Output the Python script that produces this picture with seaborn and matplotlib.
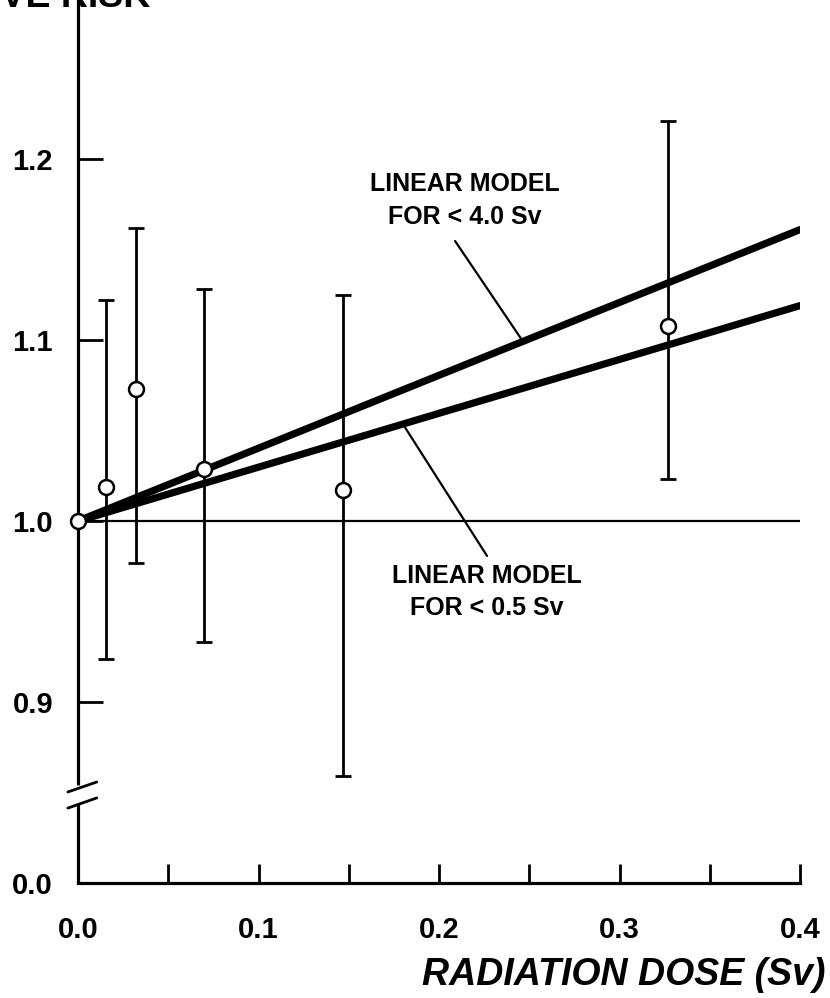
import numpy as np
import pandas as pd
import matplotlib
matplotlib.use("Agg")
import matplotlib.pyplot as plt
import seaborn as sns

# datos
dosis = [0.0, 0.0155, 0.032, 0.070, 0.147, 0.327]
riesgo = [1.0, 1.019, 1.073, 1.029, 1.017, 1.108]
ic_inf = [np.nan, 0.924, 0.977, 0.933, 0.859, 1.023]
ic_sup = [np.nan, 1.122, 1.162, 1.128, 1.125, 1.221]

modelo_x = [0.0, 0.4]
modelo_4sv = [1.0, 1.161]
modelo_05sv = [1.0, 1.119]

xtick_vals = [0.0, 0.05, 0.1, 0.15, 0.2, 0.25, 0.3, 0.35, 0.4]
xtick_labels = ["0.0", "", "0.1", "", "0.2", "", "0.3", "", "0.4"]
ytick_vals = [0.8, 0.9, 1.0, 1.1, 1.2]
ytick_labels = ["0.0", "0.9", "1.0", "1.1", "1.2"]

sns.set_theme(style="white", rc={
    "axes.edgecolor": "black", "xtick.color": "black", "ytick.color": "black",
    "text.color": "black", "axes.labelcolor": "black",
})
plt.rcParams["font.family"] = ["Liberation Sans", "DejaVu Sans"]
plt.rcParams["font.weight"] = "bold"

df = pd.DataFrame({"dosis": dosis, "riesgo": riesgo, "inf": ic_inf, "sup": ic_sup})
df_err = df.dropna()

fig = plt.figure(figsize=(8.3, 9.98), dpi=100)
ax = fig.add_axes([78 / 830, 1 - 883 / 998, 722 / 830, 883 / 998])
ax.set_xlim(0, 0.4)
ax.set_ylim(0.8, 0.8 + 883 / 1810)

# linea de referencia en 1.0
ax.axhline(1.0, color="black", lw=1.6, zorder=1)

# modelos lineales
sns.lineplot(x=modelo_x, y=modelo_4sv, ax=ax, color="black", lw=5.2, zorder=2)
sns.lineplot(x=modelo_x, y=modelo_05sv, ax=ax, color="black", lw=5.2, zorder=2)

# barras de error
ax.errorbar(df_err["dosis"], df_err["riesgo"],
            yerr=[df_err["riesgo"] - df_err["inf"], df_err["sup"] - df_err["riesgo"]],
            fmt="none", ecolor="black", elinewidth=2, capsize=6, capthick=2, zorder=3)

# puntos
sns.scatterplot(data=df, x="dosis", y="riesgo", ax=ax, s=115, color="white",
                edgecolor="black", linewidth=1.8, zorder=5, clip_on=False)

# etiquetas de los modelos
pend_4 = (modelo_4sv[1] - modelo_4sv[0]) / (modelo_x[1] - modelo_x[0])
pend_05 = (modelo_05sv[1] - modelo_05sv[0]) / (modelo_x[1] - modelo_x[0])
ax.text(0.2144, 1.177, "LINEAR MODEL\nFOR < 4.0 Sv", ha="center", va="center",
        fontsize=18, linespacing=1.45)
ax.plot([0.2089, 0.2465], [1.1547, 1.0 + pend_4 * 0.2465], color="black", lw=1.6)
ax.text(0.2266, 0.9608, "LINEAR MODEL\nFOR < 0.5 Sv", ha="center", va="center",
        fontsize=18, linespacing=1.45)
ax.plot([0.180, 0.2266], [1.0 + pend_05 * 0.180, 0.9807], color="black", lw=1.6)

# ejes
for s in ["top", "right", "left"]:
    ax.spines[s].set_visible(False)
ax.spines["bottom"].set_linewidth(2.3)
brk_lo, brk_hi = 0.844, 0.854
ytr = ax.get_yaxis_transform()
ax.plot([0, 0], [0.8, brk_lo], color="black", lw=2.3, transform=ytr, clip_on=False,
        solid_capstyle="butt")
ax.plot([0, 0], [brk_hi, 1.29], color="black", lw=2.3, transform=ytr, clip_on=False,
        solid_capstyle="butt")
ax.plot([-0.014, 0.026], [0.8414, 0.847], color="black", lw=2, transform=ytr, clip_on=False)
ax.plot([-0.014, 0.026], [0.8503, 0.8558], color="black", lw=2, transform=ytr, clip_on=False)

ax.set_xticks(xtick_vals)
ax.set_xticklabels(xtick_labels)
ax.set_yticks(ytick_vals)
ax.set_yticklabels(ytick_labels)
ax.tick_params(axis="x", direction="in", length=14, width=2, pad=24, labelsize=21, bottom=True)
ax.tick_params(axis="y", direction="in", length=18, width=2, pad=18, labelsize=21, left=True)
ax.set_xlabel("")
ax.set_ylabel("")

fig.text(825 / 830, 1 - 985 / 998, "RADIATION DOSE (Sv)", ha="right", va="baseline",
         fontsize=27, style="italic", weight="bold")
fig.text(150 / 830, 1 - 7 / 998, "RELATIVE RISK", ha="right", va="baseline",
         fontsize=27, weight="bold")

fig.savefig("out.png", dpi=100)
